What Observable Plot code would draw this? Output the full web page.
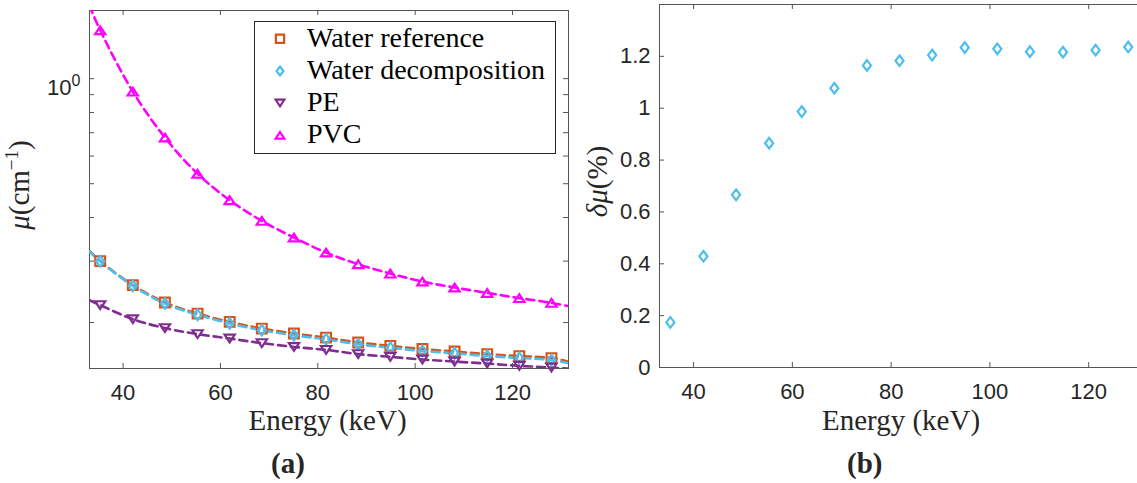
<!DOCTYPE html>
<html><head><meta charset="utf-8">
<script src="https://cdn.jsdelivr.net/npm/d3@7"></script>
<script src="https://cdn.jsdelivr.net/npm/@observablehq/plot@0.6"></script>
<style>
html,body{margin:0;padding:0;background:#fff;overflow:hidden;}
#wrap{position:relative;width:1137px;height:483px;overflow:hidden;}
#wrap > svg{position:absolute;}
</style></head><body><div id="wrap"></div>
<script>
// ---- data ----
const energy = [35.3, 42.0, 48.6, 55.3, 61.9, 68.5, 75.1, 81.7, 88.3, 94.9, 101.5, 108.1, 114.8, 121.4, 128.0];
const waterRef = [0.300, 0.256, 0.2283, 0.2122, 0.2009, 0.1922, 0.1860, 0.1811, 0.1753, 0.1715, 0.1679, 0.1652, 0.1624, 0.1603, 0.1582];
const waterDec = [0.2995, 0.2549, 0.2268, 0.2104, 0.1989, 0.1901, 0.1838, 0.1790, 0.1732, 0.1694, 0.1658, 0.1632, 0.1604, 0.1583, 0.1562];
const pe = [0.2244, 0.2045, 0.1928, 0.1853, 0.1800, 0.1746, 0.1703, 0.1670, 0.1624, 0.1595, 0.1567, 0.1546, 0.1526, 0.1503, 0.1486];
const pvc = [1.376, 0.918, 0.678, 0.534, 0.4484, 0.3913, 0.3504, 0.3174, 0.2939, 0.2763, 0.2621, 0.2520, 0.2432, 0.2350, 0.2278];
const deltaMu = [0.174, 0.429, 0.666, 0.865, 0.987, 1.077, 1.165, 1.183, 1.205, 1.234, 1.229, 1.218, 1.216, 1.224, 1.236];
// dashed reference curves: values at the plot edges
const curveEdgeEnergy = [33.1, 131.5];
const waterRefEdge = [0.321, 0.1545];
const waterDecEdge = [0.320, 0.1530];
const peEdge = [0.2318, 0.1475];
const pvcEdge = [1.62, 0.2229];
const seriesNames = ["Water reference", "Water decomposition", "PE", "PVC"];
const xTicks = [40, 60, 80, 100, 120];
const yTicksA = [0.2, 0.3, 0.4, 0.5, 0.6, 0.7, 0.8, 0.9, 1];
const yTicksB = [0, 0.2, 0.4, 0.6, 0.8, 1, 1.2];

// ---- styling ----
const C = {ref: "#D95319", dec: "#4DBEEE", pe: "#7E2F8E", pvc: "#FF00FF"};
const axisColor = "#555";
const sans = "'Liberation Sans', Arial, Helvetica, sans-serif";
const serif = "'Liberation Serif', 'Times New Roman', serif";
const xDomain = [33.1, 131.5];

// custom MATLAB-like marker symbols
const symSquare = {draw(ctx, size){const r=Math.sqrt(size/Math.PI), h=r*0.9; ctx.moveTo(-h,-h); ctx.lineTo(h,-h); ctx.lineTo(h,h); ctx.lineTo(-h,h); ctx.closePath();}};
const symDiamond = {draw(ctx, size){const r=Math.sqrt(size/Math.PI), hh=r*0.98, hw=r*0.75; ctx.moveTo(0,-hh); ctx.lineTo(hw,0); ctx.lineTo(0,hh); ctx.lineTo(-hw,0); ctx.closePath();}};
const symUp = {draw(ctx, size){const r=Math.sqrt(size/Math.PI), hw=r*0.95, hh=r*0.72; ctx.moveTo(0,-hh); ctx.lineTo(hw,hh); ctx.lineTo(-hw,hh); ctx.closePath();}};
const symDown = {draw(ctx, size){const r=Math.sqrt(size/Math.PI), hw=r*0.95, hh=r*0.72; ctx.moveTo(0,hh); ctx.lineTo(hw,-hh); ctx.lineTo(-hw,-hh); ctx.closePath();}};
const R = 5.4;

function pts(vals){ return energy.map((e,i)=>({x:e, y:vals[i]})); }
function curve(vals, edge){ return [{x:curveEdgeEnergy[0], y:edge[0]}, ...pts(vals), {x:curveEdgeEnergy[1], y:edge[1]}]; }
const dash = {strokeWidth: 2.6, strokeDasharray: "8,5", curve: "catmull-rom", clip: true};
const dotOpt = {r: R, fill: "none", strokeWidth: 2.2};

// ---- panel (a) ----
const hA = 483 - 10 - 115, wA = 580 - 89 - 12;
const plotA = Plot.plot({
  width: 580, height: 483,
  marginLeft: 89, marginRight: 12, marginTop: 10, marginBottom: 115,
  style: {fontFamily: sans, fontSize: "22px", color: "#262626", background: "transparent", overflow: "visible"},
  x: {domain: xDomain, label: null},
  y: {type: "log", domain: [0.1477, 1.568], label: null},
  marks: [
    Plot.frame({stroke: axisColor}),
    Plot.ruleX(xTicks, {insetTop: hA - 5, stroke: axisColor}),
    Plot.ruleX(xTicks, {insetBottom: hA - 5, stroke: axisColor}),
    Plot.ruleY(yTicksA, {insetRight: wA - 5, stroke: axisColor}),
    Plot.ruleY(yTicksA, {insetLeft: wA - 5, stroke: axisColor}),
    Plot.axisX(xTicks, {tickSize: 0, tickPadding: 16, tickFormat: d => String(d), fill: "#262626"}),
    Plot.axisY([1], {tickSize: 0, tickPadding: 9, tickFormat: () => "10", fill: "#262626"}),
    Plot.line(curve(waterRef, waterRefEdge), {x: "x", y: "y", stroke: C.ref, ...dash}),
    Plot.line(curve(waterDec, waterDecEdge), {x: "x", y: "y", stroke: C.dec, ...dash}),
    Plot.line(curve(pe, peEdge), {x: "x", y: "y", stroke: C.pe, ...dash}),
    Plot.line(curve(pvc, pvcEdge), {x: "x", y: "y", stroke: C.pvc, ...dash}),
    Plot.dot(pts(waterRef), {x: "x", y: "y", symbol: symSquare, stroke: C.ref, ...dotOpt}),
    Plot.dot(pts(waterDec), {x: "x", y: "y", symbol: symDiamond, stroke: C.dec, ...dotOpt}),
    Plot.dot(pts(pe), {x: "x", y: "y", symbol: symDown, stroke: C.pe, ...dotOpt}),
    Plot.dot(pts(pvc), {x: "x", y: "y", symbol: symUp, stroke: C.pvc, ...dotOpt})
  ]
});
plotA.style.left = "0px"; plotA.style.top = "0px";
// superscript exponent on the 10^0 tick label
d3.select(plotA).selectAll('g[aria-label="y-axis tick label"] text').each(function(){
  const t = d3.select(this);
  t.text(null).attr("dy", "0.42em");
  t.append("tspan").text("10");
  t.append("tspan").attr("dy", "-9").attr("font-size", "16px").text("0");
});

// ---- panel (b) ----
const hB = 483 - 4 - 116, wB = 570 - 69 - 15;
const plotB = Plot.plot({
  width: 570, height: 483,
  marginLeft: 69, marginRight: 15, marginTop: 4, marginBottom: 116,
  style: {fontFamily: sans, fontSize: "22px", color: "#262626", background: "transparent", overflow: "visible"},
  x: {domain: xDomain, label: null},
  y: {domain: [0, 1.4], label: null},
  marks: [
    Plot.frame({stroke: axisColor}),
    Plot.ruleX(xTicks, {insetTop: hB - 5, stroke: axisColor}),
    Plot.ruleX(xTicks, {insetBottom: hB - 5, stroke: axisColor}),
    Plot.ruleY(yTicksB, {insetRight: wB - 5, stroke: axisColor}),
    Plot.axisX(xTicks, {tickSize: 0, tickPadding: 16, tickFormat: d => String(d), fill: "#262626"}),
    Plot.axisY(yTicksB, {tickSize: 0, tickPadding: 9, tickFormat: d => String(d), fill: "#262626"}),
    Plot.dot(pts(deltaMu), {x: "x", y: "y", symbol: symDiamond, stroke: C.dec, ...dotOpt})
  ]
});
plotB.style.left = "590px"; plotB.style.top = "0px";

const wrap = document.getElementById("wrap");
wrap.appendChild(plotA);
wrap.appendChild(plotB);

// ---- overlay: axis titles, panel labels, legend ----
const ov = d3.select(wrap).append("svg").attr("width", 1137).attr("height", 483)
  .style("left", "0px").style("top", "0px").attr("font-family", serif).attr("fill", "#262626");
ov.append("text").attr("x", 327.5).attr("y", 430).attr("text-anchor", "middle").attr("font-size", "29px").text("Energy (keV)");
ov.append("text").attr("x", 901).attr("y", 430).attr("text-anchor", "middle").attr("font-size", "29px").text("Energy (keV)");
ov.append("text").attr("x", 288).attr("y", 473).attr("text-anchor", "middle").attr("font-size", "29px").attr("font-weight", "bold").text("(a)");
ov.append("text").attr("x", 864.7).attr("y", 473).attr("text-anchor", "middle").attr("font-size", "29px").attr("font-weight", "bold").text("(b)");
const yl = ov.append("text").attr("transform", "translate(29,185) rotate(-90)").attr("text-anchor", "middle").attr("font-size", "29px");
yl.append("tspan").attr("font-style", "italic").text("μ");
yl.append("tspan").text("(cm");
yl.append("tspan").attr("dy", -11).attr("font-size", "19px").text("−1");
yl.append("tspan").attr("dy", 11).text(")");
const yr = ov.append("text").attr("transform", "translate(607,181.5) rotate(-90)").attr("text-anchor", "middle").attr("font-size", "29px");
yr.append("tspan").attr("font-style", "italic").text("δμ");
yr.append("tspan").text("(%)");

// legend
const lg = ov.append("g");
lg.append("rect").attr("x", 254.5).attr("y", 21.5).attr("width", 301).attr("height", 132).attr("fill", "#fff").attr("stroke", "#262626").attr("stroke-width", 1);
const legSyms = [symSquare, symDiamond, symDown, symUp];
const legColors = [C.ref, C.dec, C.pe, C.pvc];
const legBase = [46.7, 79, 111, 143.3];
seriesNames.forEach((name, i) => {
  lg.append("path").attr("d", d3.symbol(legSyms[i], Math.PI * 4.6 * 4.6)()).attr("transform", `translate(280,${legBase[i] - 8})`)
    .attr("fill", "none").attr("stroke", legColors[i]).attr("stroke-width", 2.2);
  lg.append("text").attr("x", 307).attr("y", legBase[i]).attr("font-size", "28px").attr("fill", "#000").text(name);
});
</script></body></html>
